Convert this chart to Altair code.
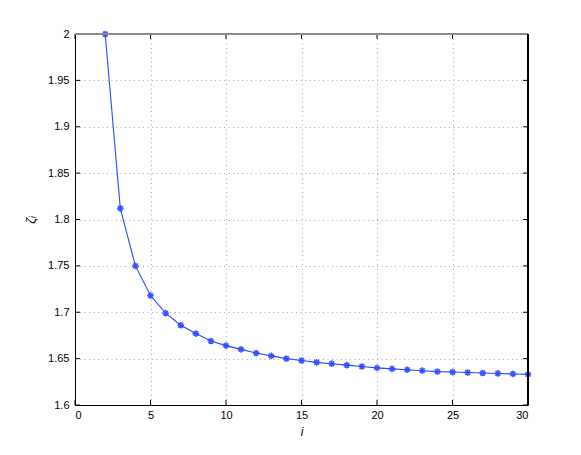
import altair as alt
import pandas as pd

i_vals = list(range(2, 31))
zeta = [2.0, 1.812, 1.75, 1.718, 1.699, 1.686, 1.677, 1.669, 1.664, 1.660,
        1.656, 1.653, 1.650, 1.648, 1.646, 1.6445, 1.643, 1.6415, 1.640, 1.639,
        1.638, 1.637, 1.636, 1.6355, 1.635, 1.6345, 1.634, 1.6335, 1.633]
x_ticks = [0, 5, 10, 15, 20, 25, 30]
y_ticks = [1.6, 1.65, 1.7, 1.75, 1.8, 1.85, 1.9, 1.95, 2.0]

W, H = 453, 371
FONT = "Liberation Sans"
BLUE = "#2a48ff"

df = pd.DataFrame({"i": i_vals, "zeta": zeta})
dx = pd.DataFrame({"xt": x_ticks})
dy = pd.DataFrame({"yt": y_ticks})

xs = alt.Scale(domain=[0, 30], nice=False, zero=False)
ys = alt.Scale(domain=[1.6, 2.0], nice=False, zero=False)

xaxis = alt.Axis(values=x_ticks, format="d", grid=True, gridDash=[1, 3.5], gridColor="#a8a8a8",
                 ticks=False, domain=True, domainColor="#000", labelFont=FONT, labelFontSize=11, labelColor="#000",
                 labelPadding=4, title="i", titleFont=FONT, titleFontSize=12,
                 titleFontStyle="italic", titleFontWeight="normal", titlePadding=6, titleColor="#000")
yaxis = alt.Axis(values=y_ticks, format=".2~f", grid=True, gridDash=[1, 3.5], gridColor="#a8a8a8",
                 ticks=False, domain=True, domainColor="#000", labelFont=FONT, labelFontSize=11, labelColor="#000",
                 labelPadding=6, title="ζᵢ", titleFont=FONT, titleFontSize=13,
                 titleFontStyle="italic", titleFontWeight="normal", titlePadding=10, titleColor="#000")

line = alt.Chart(df).mark_line(color=BLUE, strokeWidth=1.1).encode(
    x=alt.X("i:Q", scale=xs, axis=xaxis),
    y=alt.Y("zeta:Q", scale=ys, axis=yaxis),
)
star = "M-1,0L1,0M0,-1L0,1M-0.7,-0.7L0.7,0.7M-0.7,0.7L0.7,-0.7"
pts = alt.Chart(df).mark_point(shape=star, filled=False, color=BLUE, strokeWidth=1.6, size=45, opacity=0.9).encode(
    x=alt.X("i:Q", scale=xs), y=alt.Y("zeta:Q", scale=ys))

tb = alt.Chart(dx).mark_rule(color="#000", strokeWidth=1).encode(
    x=alt.X("xt:Q", scale=xs), y=alt.value(H), y2=alt.value(H - 5))
tt = alt.Chart(dx).mark_rule(color="#000", strokeWidth=1).encode(
    x=alt.X("xt:Q", scale=xs), y=alt.value(0), y2=alt.value(5))
tl = alt.Chart(dy).mark_rule(color="#000", strokeWidth=1).encode(
    y=alt.Y("yt:Q", scale=ys), x=alt.value(0), x2=alt.value(5))
tr = alt.Chart(dy).mark_rule(color="#000", strokeWidth=1).encode(
    y=alt.Y("yt:Q", scale=ys), x=alt.value(W), x2=alt.value(W - 5))
top_border = alt.Chart(dx).mark_rule(color="#8a8a8a", strokeWidth=1).encode(
    x=alt.value(0), x2=alt.value(W), y=alt.value(0))
right_border = alt.Chart(dx).mark_rule(color="#000", strokeWidth=1).encode(
    x=alt.value(W), y=alt.value(0), y2=alt.value(H))

chart = alt.layer(line, pts, tb, tt, tl, tr, top_border, right_border).properties(
    width=W, height=H,
    autosize=alt.AutoSizeParams(type="none"),
    padding={"left": 67, "top": 26, "right": 45, "bottom": 40},
).configure_view(stroke=None).configure(background="white")

chart.save("out.html", embed_options={"renderer": "svg", "actions": False})
